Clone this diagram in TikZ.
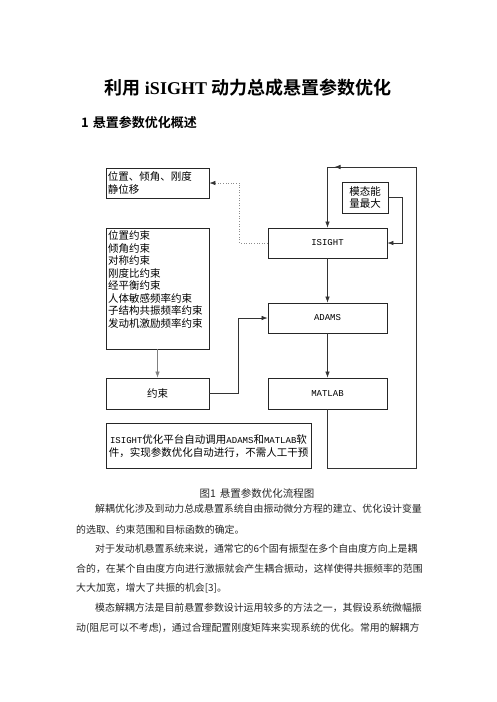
\documentclass[tikz,border=0pt]{standalone}
\usepackage{fontspec}
\setmainfont{Noto Sans CJK SC}[BoldFont={* Bold}]
\newfontfamily\latinbf{Liberation Serif}
\newfontfamily\mono{Liberation Mono}
\usetikzlibrary{arrows.meta}

\begin{document}
\begin{tikzpicture}[x=1pt, y=-1pt,
  box/.style={draw=black!85, line width=0.9pt, inner sep=0pt},
  wire/.style={draw=black!80, line width=0.6pt},
  link/.style={wire, -{Latex[length=6pt,width=4.5pt]}},
  dotlink/.style={draw=black!45, line width=0.6pt, dotted, -{Latex[length=6pt,width=4.5pt,color=black!80]}},
  cn/.style={font=\fontsize{10.5}{12.5}\selectfont, inner sep=0pt, align=left},
  prog/.style={font=\mono\fontsize{9}{11}\selectfont},
  body/.style={anchor=west, inner sep=0pt, text=black!85, font=\fontsize{9.9}{12}\selectfont}]
  \useasboundingbox[fill=white] (0,0) rectangle (496,702);

  % heading
  \node[font=\fontsize{18}{20}\selectfont\bfseries] (title) at (248,88) {利用 {\latinbf iSIGHT} 动力总成悬置参数优化};
  \node[anchor=west, inner sep=0pt, font=\fontsize{13}{15}\selectfont\bfseries] (sec) at (81,123) {1\hspace{4pt}悬置参数优化概述};

  % flow chart boxes
  \node[box, minimum width=103, minimum height=30] (pos) at (157.5,183) {};
  \node[cn, anchor=west] at ([xshift=2]pos.west) {位置、倾角、刚度\\静位移};
  \node[box, minimum width=103, minimum height=121] (cons) at (157.5,288.5) {};
  \node[cn, anchor=west] at (108,279.5) {位置约束\\倾角约束\\对称约束\\刚度比约束\\经平衡约束\\人体敏感频率约束\\子结构共振频率约束\\发动机激励频率约束};
  \node[box, minimum width=103, minimum height=31] (bound) at (157.5,393.5) {\fontsize{10.5}{12}\selectfont 约束};
  \node[box, minimum width=46, minimum height=31, cn, align=center] (mode) at (365,197.5) {模态能\\量最大};
  \node[box, prog, minimum width=119, minimum height=30] (isight) at (327.5,243) {ISIGHT};
  \node[box, prog, minimum width=119, minimum height=30] (adams) at (327.5,318) {ADAMS};
  \node[box, prog, minimum width=119, minimum height=31] (matlab) at (327.5,393.5) {MATLAB};
  \node[box, minimum width=205, minimum height=45, cn, align=center] (note) at (208.5,446) {{\mono\fontsize{9}{11}\selectfont ISIGHT}优化平台自动调用{\mono\fontsize{9}{11}\selectfont ADAMS}和{\mono\fontsize{9}{11}\selectfont MATLAB}软\\件，实现参数优化自动进行，不需人工干预};

  % connectors
  \draw[dotlink] (isight.west) -- ++(-28,0) |- (pos.east);
  \draw[link] (mode.east) -- ++(14,0) |- (isight.east);
  \coordinate (loopR) at (416,167);
  \coordinate (loopL) at (isight.north |- loopR);
  \draw[link] (matlab.south) -- ++(0,59) -| (loopR) -- (loopL) -- (isight.north);
  \draw[link] (loopR) -- ([xshift=7]loopL);
  \draw[link] (isight) -- (adams);
  \draw[link] (adams) -- (matlab);
  \draw[link, draw=black!50] (cons) -- (bound);
  \draw[link] (bound.east) -- ++(29,0) |- (adams.west);

  % caption and text
  \node[inner sep=0pt, text=black!85, font=\fontsize{10.5}{12}\selectfont] (cap) at (257,493) {图1\hspace{4pt}悬置参数优化流程图};
  \node[body] (p1) at (95,509) {解耦优化涉及到动力总成悬置系统自由振动微分方程的建立、优化设计变量};
  \node[body] (p2) at (76,530) {的选取、约束范围和目标函数的确定。};
  \node[body] (p3) at (95,549) {对于发动机悬置系统来说，通常它的6个固有振型在多个自由度方向上是耦};
  \node[body] (p4) at (76,569) {合的，在某个自由度方向进行激振就会产生耦合振动，这样使得共振频率的范围};
  \node[body] (p5) at (76,588) {大大加宽，增大了共振的机会[3]。};
  \node[body] (p6) at (95,608) {模态解耦方法是目前悬置参数设计运用较多的方法之一，其假设系统微幅振};
  \node[body] (p7) at (76,628) {动(阻尼可以不考虑)，通过合理配置刚度矩阵来实现系统的优化。常用的解耦方};
\end{tikzpicture}
\end{document}
